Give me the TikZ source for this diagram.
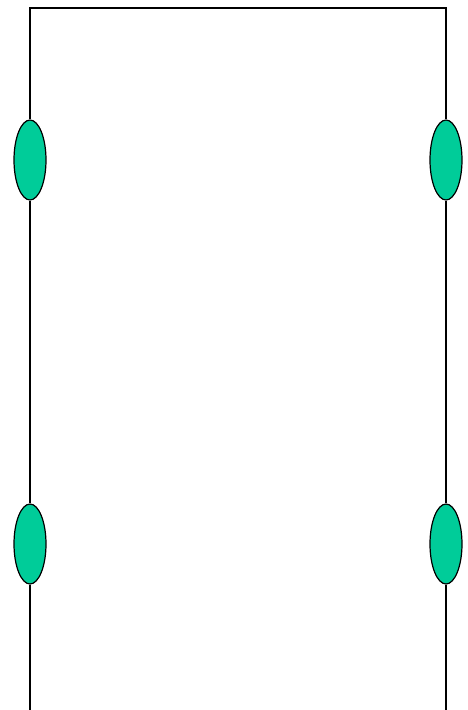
\documentclass[tikz,border=0pt]{standalone}
\usetikzlibrary{shapes.geometric}
\definecolor{mGreen}{HTML}{00CC99}

\begin{document}
\begin{tikzpicture}[
  x=1pt, y=-1pt,
  bead/.style={ellipse, draw=black, fill=mGreen, line width=1.2pt,
               minimum width=32pt, minimum height=80pt, inner sep=0pt},
  wire/.style={draw=black, line width=1.2pt},
]
  \useasboundingbox (0,0) rectangle (467,710);

  % Beads on the two wires
  \node[bead] (lt) at (30,160) {};
  \node[bead] (lb) at (30,544) {};
  \node[bead] (rt) at (446,160) {};
  \node[bead] (rb) at (446,544) {};

  % Free ends
  \coordinate (tl) at (30,8);
  \coordinate (tr) at (446,8);
  \coordinate (bl) at (30,712);
  \coordinate (br) at (446,712);

  % Wires
  \draw[wire] (lt.north) -- (tl) -- (tr) -- (rt.north);
  \draw[wire] (lt.south) -- (lb.north);
  \draw[wire] (rt.south) -- (rb.north);
  \draw[wire] (lb.south) -- (bl);
  \draw[wire] (rb.south) -- (br);
\end{tikzpicture}
\end{document}
